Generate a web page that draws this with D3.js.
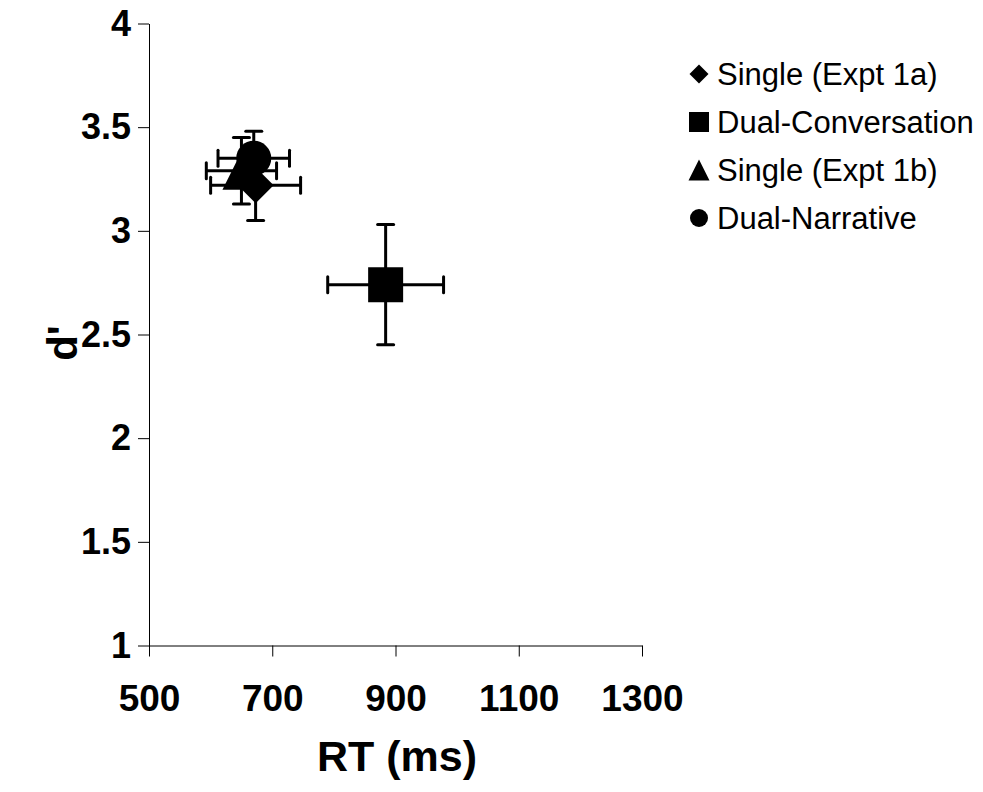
<!DOCTYPE html>
<html>
<head>
<meta charset="utf-8">
<script src="https://cdn.jsdelivr.net/npm/d3@7"></script>
<style>
  html, body { margin: 0; padding: 0; background: #fff; }
  svg { display: block; }
  text { font-family: "Liberation Sans", Arial, sans-serif; fill: #000; }
</style>
</head>
<body>
<svg id="chart" width="983" height="792"></svg>
<script>
// ---- data ----
const seriesNames = ["Single (Expt 1a)", "Dual-Conversation", "Single (Expt 1b)", "Dual-Narrative"];
const seriesShapes = ["diamond", "square", "triangle", "circle"];
const rtValues = [673, 884, 650, 670];
const rtErrors = [73, 94, 57, 58];
const dprimeValues = [3.22, 2.74, 3.29, 3.35];
const dprimeErrors = [0.17, 0.29, 0.16, 0.13];
const xTicks = [500, 700, 900, 1100, 1300];
const yTicks = [1, 1.5, 2, 2.5, 3, 3.5, 4];

const data = seriesNames.map((name, i) => ({
  name, shape: seriesShapes[i], rt: rtValues[i], rtErr: rtErrors[i],
  d: dprimeValues[i], dErr: dprimeErrors[i]
}));

const svg = d3.select("#chart");
const x = d3.scaleLinear().domain([500, 1300]).range([149, 642]);
const y = d3.scaleLinear().domain([1, 4]).range([645.5, 23.5]);

// marker path generator (centered at 0,0), size = full width
function markerPath(shape, s) {
  const h = s / 2;
  const p = d3.path();
  if (shape === "square") { p.rect(-h, -h, s, s); }
  else if (shape === "diamond") { p.moveTo(0, -h); p.lineTo(h, 0); p.lineTo(0, h); p.lineTo(-h, 0); p.closePath(); }
  else if (shape === "triangle") { p.moveTo(0, -h); p.lineTo(h, h); p.lineTo(-h, h); p.closePath(); }
  else { p.arc(0, 0, h, 0, 2 * Math.PI); p.closePath(); }
  return p.toString();
}

// ---- axes ----
const yAxis = svg.append("g")
  .attr("transform", `translate(${x(500)},0)`)
  .call(d3.axisLeft(y).tickValues(yTicks).tickSize(11).tickSizeOuter(0).tickPadding(7)
    .tickFormat(d => d3.format("")(d)));
const xAxis = svg.append("g")
  .attr("transform", `translate(0,${y(1)})`)
  .call(d3.axisBottom(x).tickValues(xTicks).tickSize(11).tickSizeOuter(0).tickPadding(54)
    .tickFormat(d3.format("d")));

[yAxis, xAxis].forEach(g => {
  g.select(".domain").attr("stroke", "#000").attr("stroke-width", 1);
  g.selectAll(".tick line").attr("stroke", "#000").attr("stroke-width", 1);
  g.selectAll(".tick text")
    .attr("font-family", "'Liberation Sans', Arial, sans-serif")
    .attr("font-weight", "bold").attr("fill", "#000");
});
yAxis.selectAll(".tick text").attr("font-size", 36);
xAxis.selectAll(".tick text").attr("font-size", 37).attr("dy", "0");

// axis titles
svg.append("text")
  .attr("x", 397).attr("y", 771)
  .attr("text-anchor", "middle")
  .attr("font-size", 43).attr("font-weight", "bold")
  .text("RT (ms)");
svg.append("text")
  .attr("transform", "translate(77,343) rotate(-90)")
  .attr("text-anchor", "middle")
  .attr("font-size", 42).attr("font-weight", "bold")
  .text("d'");

// ---- error bars ----
const capHalf = 8;
const eb = svg.append("g").attr("stroke", "#000").attr("stroke-width", 3).attr("fill", "none");
data.forEach(d => {
  const cx = x(d.rt), cy = y(d.d);
  const x0 = x(d.rt - d.rtErr), x1 = x(d.rt + d.rtErr);
  const y0 = y(d.d + d.dErr), y1 = y(d.d - d.dErr);
  eb.append("line").attr("x1", x0).attr("x2", x1).attr("y1", cy).attr("y2", cy);
  eb.append("line").attr("x1", cx).attr("x2", cx).attr("y1", y0).attr("y2", y1);
  [x0, x1].forEach(xx => eb.append("line").attr("stroke-linecap", "round")
    .attr("x1", xx).attr("x2", xx).attr("y1", cy - capHalf).attr("y2", cy + capHalf));
  [y0, y1].forEach(yy => eb.append("line").attr("stroke-linecap", "round")
    .attr("x1", cx - capHalf).attr("x2", cx + capHalf).attr("y1", yy).attr("y2", yy));
});

// ---- markers ----
const markerSize = { diamond: 36, square: 35, triangle: 38, circle: 35 };
svg.append("g").selectAll("path").data(data).join("path")
  .attr("transform", d => `translate(${x(d.rt)},${y(d.d)})`)
  .attr("d", d => markerPath(d.shape, markerSize[d.shape]))
  .attr("fill", "#000");

// ---- legend ----
const legendSize = { diamond: 19, square: 20, triangle: 21, circle: 18 };
const legend = svg.append("g").attr("transform", "translate(699,0)");
const rows = legend.selectAll("g").data(data).join("g")
  .attr("transform", (d, i) => `translate(0,${74 + i * 48})`);
rows.append("path")
  .attr("d", d => markerPath(d.shape, legendSize[d.shape]))
  .attr("fill", "#000");
rows.append("text")
  .attr("x", 18).attr("y", 11)
  .attr("font-size", 31)
  .text(d => d.name);
</script>
</body>
</html>
